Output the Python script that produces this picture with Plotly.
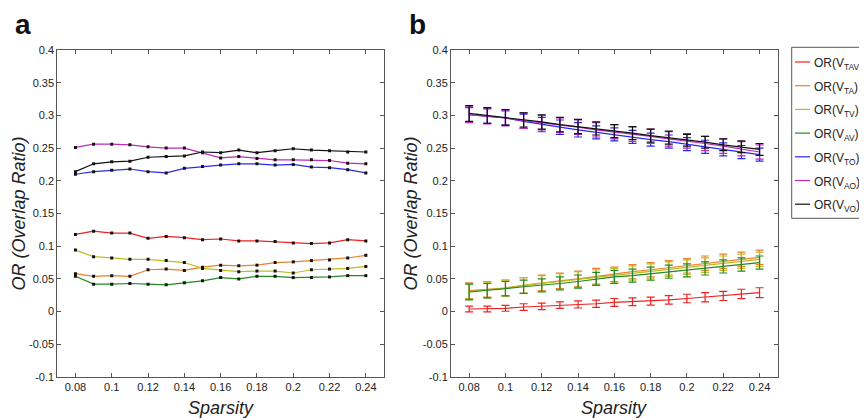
import plotly.graph_objects as go

sparsity = [0.08, 0.09, 0.10, 0.11, 0.12, 0.13, 0.14, 0.15, 0.16, 0.17, 0.18, 0.19, 0.20, 0.21, 0.22, 0.23, 0.24]
series_names = ["OR(V<sub>TAV</sub>)", "OR(V<sub>TA</sub>)", "OR(V<sub>TV</sub>)", "OR(V<sub>AV</sub>)",
                "OR(V<sub>TO</sub>)", "OR(V<sub>AO</sub>)", "OR(V<sub>VO</sub>)"]
colors = ["#ee2222", "#e8822e", "#bcbc22", "#228a22", "#2a2aee", "#bb2abb", "#111111"]

# Panel a values
a_TAV = [0.118, 0.123, 0.120, 0.120, 0.112, 0.115, 0.113, 0.110, 0.111, 0.108, 0.108, 0.107, 0.105, 0.104, 0.105, 0.110, 0.108]
a_TA = [0.058, 0.054, 0.055, 0.054, 0.064, 0.065, 0.063, 0.068, 0.071, 0.070, 0.071, 0.075, 0.076, 0.078, 0.079, 0.082, 0.086]
a_TV = [0.094, 0.084, 0.082, 0.080, 0.080, 0.078, 0.075, 0.066, 0.063, 0.061, 0.062, 0.062, 0.059, 0.064, 0.065, 0.066, 0.069]
a_AV = [0.054, 0.042, 0.042, 0.043, 0.042, 0.041, 0.044, 0.047, 0.052, 0.050, 0.054, 0.054, 0.052, 0.052, 0.053, 0.055, 0.055]
a_TO = [0.210, 0.214, 0.216, 0.218, 0.214, 0.212, 0.219, 0.222, 0.224, 0.226, 0.226, 0.224, 0.225, 0.221, 0.220, 0.217, 0.212]
a_AO = [0.251, 0.256, 0.256, 0.255, 0.252, 0.250, 0.250, 0.243, 0.235, 0.237, 0.234, 0.232, 0.232, 0.232, 0.231, 0.227, 0.226]
a_VO = [0.214, 0.226, 0.229, 0.230, 0.236, 0.237, 0.238, 0.244, 0.243, 0.247, 0.243, 0.246, 0.249, 0.247, 0.246, 0.244, 0.244]

# Panel b means and error half-widths
b_TAV = [0.004, 0.004, 0.005, 0.007, 0.008, 0.010, 0.011, 0.012, 0.014, 0.015, 0.016, 0.018, 0.020, 0.022, 0.024, 0.027, 0.029]
b_TA = [0.032, 0.034, 0.036, 0.040, 0.044, 0.047, 0.050, 0.054, 0.057, 0.061, 0.064, 0.067, 0.070, 0.074, 0.077, 0.080, 0.083]
b_TV = [0.031, 0.033, 0.036, 0.040, 0.043, 0.046, 0.049, 0.052, 0.055, 0.059, 0.062, 0.065, 0.068, 0.071, 0.074, 0.077, 0.080]
b_AV = [0.030, 0.032, 0.035, 0.038, 0.040, 0.043, 0.046, 0.050, 0.053, 0.055, 0.058, 0.061, 0.063, 0.066, 0.069, 0.072, 0.075]
b_TO = [0.301, 0.299, 0.296, 0.291, 0.286, 0.282, 0.278, 0.274, 0.271, 0.267, 0.263, 0.260, 0.256, 0.252, 0.248, 0.244, 0.240]
b_AO = [0.301, 0.299, 0.296, 0.292, 0.289, 0.285, 0.282, 0.278, 0.275, 0.271, 0.268, 0.264, 0.261, 0.257, 0.253, 0.249, 0.244]
b_VO = [0.303, 0.300, 0.297, 0.293, 0.290, 0.286, 0.283, 0.280, 0.276, 0.273, 0.269, 0.266, 0.262, 0.259, 0.255, 0.252, 0.248]

e_TAV = [0.0045, 0.0045, 0.0045, 0.005, 0.005, 0.005, 0.0055, 0.0055, 0.006, 0.006, 0.006, 0.0065, 0.0065, 0.007, 0.007, 0.0072, 0.0075]
e_TA = [0.012, 0.012, 0.012, 0.012, 0.012, 0.012, 0.012, 0.012, 0.011, 0.011, 0.011, 0.011, 0.011, 0.011, 0.011, 0.011, 0.011]
e_TV = [0.012, 0.012, 0.012, 0.012, 0.012, 0.012, 0.012, 0.012, 0.011, 0.011, 0.011, 0.011, 0.011, 0.011, 0.011, 0.011, 0.011]
e_AV = [0.012, 0.011, 0.011, 0.010, 0.010, 0.010, 0.010, 0.010, 0.010, 0.010, 0.010, 0.010, 0.010, 0.010, 0.010, 0.010, 0.010]
e_TO = [0.011, 0.011, 0.011, 0.011, 0.011, 0.011, 0.011, 0.010, 0.010, 0.010, 0.010, 0.010, 0.010, 0.010, 0.010, 0.010, 0.010]
e_AO = [0.012, 0.012, 0.012, 0.012, 0.011, 0.011, 0.011, 0.011, 0.011, 0.011, 0.011, 0.011, 0.011, 0.011, 0.011, 0.011, 0.011]
e_VO = [0.012, 0.012, 0.012, 0.011, 0.011, 0.011, 0.011, 0.010, 0.010, 0.010, 0.010, 0.010, 0.009, 0.009, 0.009, 0.009, 0.009]

x_tickvals = [0.08, 0.10, 0.12, 0.14, 0.16, 0.18, 0.20, 0.22, 0.24]
x_ticktext = ["0.08", "0.1", "0.12", "0.14", "0.16", "0.18", "0.2", "0.22", "0.24"]
y_tickvals = [-0.1, -0.05, 0, 0.05, 0.1, 0.15, 0.2, 0.25, 0.3, 0.35, 0.4]
y_ticktext = ["-0.1", "-0.05", "0", "0.05", "0.1", "0.15", "0.2", "0.25", "0.3", "0.35", "0.4"]

a_series = [a_TAV, a_TA, a_TV, a_AV, a_TO, a_AO, a_VO]
b_series = [b_TAV, b_TA, b_TV, b_AV, b_TO, b_AO, b_VO]
b_errors = [e_TAV, e_TA, e_TV, e_AV, e_TO, e_AO, e_VO]

fig = go.Figure()
for name, col, ys in zip(series_names, colors, a_series):
    fig.add_trace(go.Scatter(
        x=sparsity, y=ys, mode="lines+markers", name=name, showlegend=False,
        line=dict(color=col, width=1.2),
        marker=dict(color="#111111", symbol="square", size=3),
        xaxis="x", yaxis="y"))
for name, col, ys, es in zip(series_names, colors, b_series, b_errors):
    fig.add_trace(go.Scatter(
        x=sparsity, y=ys, mode="lines", name=name, showlegend=False,
        line=dict(color=col, width=1.2),
        error_y=dict(type="data", array=es, visible=True, color=col, thickness=1.2, width=4),
        xaxis="x2", yaxis="y2"))

# The page body adds an 8px offset; the figure is laid out in reference pixels minus 8.
OFF = 8.0
W = 867.0 - OFF
H = 420.0 - OFF


def px(x):
    return (x - OFF) / W


def py(y):
    return (H - (y - OFF)) / H


ydom = [py(377), py(50)]
axis_common = dict(
    showline=True, linecolor="#555555", linewidth=1, mirror="ticks", automargin=False,
    ticks="inside", ticklen=4, tickcolor="#555555", showgrid=False, zeroline=False,
    tickfont=dict(family="Liberation Sans, Arial, sans-serif", size=11, color="#222222"),
)
xcommon = dict(axis_common, range=[0.07, 0.25], tickvals=x_tickvals, ticktext=x_ticktext)
ycommon = dict(axis_common, range=[-0.1, 0.4], tickvals=y_tickvals, ticktext=y_ticktext)

fig.update_layout(
    width=int(W), height=int(H),
    margin=dict(l=0, r=0, t=0, b=0, autoexpand=False),
    paper_bgcolor="white", plot_bgcolor="white",
    xaxis=dict(xcommon, domain=[px(57.3), px(384)], anchor="y"),
    yaxis=dict(ycommon, domain=ydom, anchor="x"),
    xaxis2=dict(xcommon, domain=[px(451), px(777.7)], anchor="y2"),
    yaxis2=dict(ycommon, domain=ydom, anchor="x2"),
    showlegend=False,
)

title_font = dict(family="Liberation Sans, Arial, sans-serif", size=18, color="#222222")
annos = [
    dict(text="<i>OR (Overlap Ratio)</i>", x=px(19), y=py(213.5), textangle=-90),
    dict(text="<i>OR (Overlap Ratio)</i>", x=px(411), y=py(213.5), textangle=-90),
    dict(text="<i>Sparsity</i>", x=px(220.6), y=py(408)),
    dict(text="<i>Sparsity</i>", x=px(614.3), y=py(408)),
]
for a in annos:
    fig.add_annotation(xref="paper", yref="paper", showarrow=False, font=title_font,
                       xanchor="center", yanchor="middle", **a)
label_font = dict(family="Liberation Sans, Arial, sans-serif", size=28, color="#111111")
fig.add_annotation(xref="paper", yref="paper", x=px(22.5), y=py(24.5), text="<b>a</b>",
                   showarrow=False, font=label_font, xanchor="center", yanchor="middle")
fig.add_annotation(xref="paper", yref="paper", x=px(417.5), y=py(24.5), text="<b>b</b>",
                   showarrow=False, font=label_font, xanchor="center", yanchor="middle")

# Legend box (right edge runs off the figure, as in the reference)
fig.add_shape(type="rect", xref="paper", yref="paper", x0=px(791.7), x1=1.05, y0=py(218.3), y1=py(47.3),
              line=dict(color="#555555", width=1), fillcolor="white", layer="above")
legend_font = dict(family="Liberation Sans, Arial, sans-serif", size=12, color="#222222")
for i, (name, col) in enumerate(zip(series_names, colors)):
    ry = 62.0 + 23.7 * i
    fig.add_shape(type="line", xref="paper", yref="paper", x0=px(795), x1=px(810), y0=py(ry), y1=py(ry),
                  line=dict(color=col, width=1.2), layer="above")
    fig.add_annotation(xref="paper", yref="paper", x=px(812), y=py(ry + 2), text=name,
                       showarrow=False, font=legend_font, xanchor="left", yanchor="middle")

fig.write_html("out.html")
